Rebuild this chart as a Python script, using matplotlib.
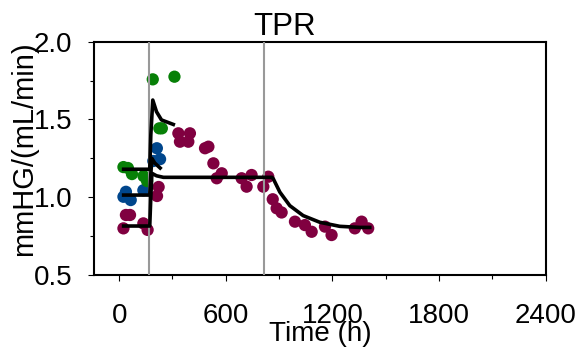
import matplotlib
matplotlib.use("Agg")
import matplotlib.pyplot as plt
from matplotlib.ticker import MultipleLocator, FormatStrFormatter

plt.rcParams['font.family'] = ['Liberation Sans', 'DejaVu Sans']

# ---- data ----
green_t = [24, 49, 72, 137, 157, 189, 226, 240, 311]
green_v = [1.194, 1.188, 1.149, 1.136, 1.104, 1.758, 1.443, 1.443, 1.775]

blue_t = [24, 38, 65, 136, 192, 212, 230]
blue_v = [1.003, 1.035, 0.982, 1.045, 1.233, 1.315, 1.245]

maroon_t = [24, 38, 61, 136, 160, 213, 222, 333, 398, 342, 389, 483, 502, 530,
            549, 577, 689, 717, 745, 811, 839, 864, 886, 914, 989, 1045, 1083,
            1158, 1195, 1326, 1364, 1401]
maroon_v = [0.800, 0.886, 0.886, 0.832, 0.790, 1.008, 1.066, 1.411, 1.411, 1.357,
            1.357, 1.315, 1.325, 1.218, 1.122, 1.154, 1.122, 1.068, 1.143, 1.068,
            1.132, 0.987, 0.929, 0.902, 0.843, 0.821, 0.778, 0.811, 0.757, 0.800,
            0.843, 0.800]

model_green_t = [15, 172, 178, 189, 210, 238, 314]
model_green_v = [1.18, 1.18, 1.40, 1.625, 1.55, 1.497, 1.464]

model_blue_t = [15, 172, 178, 184, 200, 238]
model_blue_v = [1.014, 1.014, 1.15, 1.25, 1.22, 1.18]

model_maroon_t = [15, 172, 178, 184, 210, 249, 500, 860, 867, 904, 960, 1035,
                  1129, 1241, 1354, 1420]
model_maroon_v = [0.815, 0.815, 1.0, 1.154, 1.138, 1.128, 1.128, 1.128, 1.119,
                  1.033, 0.946, 0.882, 0.839, 0.813, 0.806, 0.806]

vlines_t = [168, 816]

x_ticks = [0, 600, 1200, 1800, 2400]
y_ticks = [0.5, 1.0, 1.5, 2.0]

# ---- figure ----
fig = plt.figure(figsize=(5.81, 3.49), dpi=100)
ax = fig.add_axes([0.1623, 0.212, 0.777, 0.6685])

ms = 78
ax.scatter(maroon_t, maroon_v, s=ms, color='#800040', edgecolors='none', zorder=2)
ax.scatter(blue_t, blue_v, s=ms, color='#00468c', edgecolors='none', zorder=2)
ax.scatter(green_t, green_v, s=ms, color='#078007', edgecolors='none', zorder=2)

for t in vlines_t:
    ax.axvline(t, color='#999999', lw=1.5, zorder=3)

for tt, vv in [(model_green_t, model_green_v), (model_blue_t, model_blue_v),
               (model_maroon_t, model_maroon_v)]:
    ax.plot(tt, vv, color='black', lw=2.6, zorder=4, solid_capstyle='butt')

ax.set_xlim(-140, 2400)
ax.set_ylim(0.5, 2.0)
ax.set_xticks(x_ticks)
ax.set_yticks(y_ticks)
ax.xaxis.set_minor_locator(MultipleLocator(300))
ax.yaxis.set_minor_locator(MultipleLocator(0.25))
ax.yaxis.set_major_formatter(FormatStrFormatter('%.1f'))

for s in ax.spines.values():
    s.set_linewidth(1.5)

ax.tick_params(which='major', direction='out', length=4.5, width=0.8, labelsize=20)
ax.tick_params(axis='x', which='major', pad=16)
ax.tick_params(axis='y', which='major', pad=11.5)
ax.tick_params(which='minor', direction='out', length=2.7, width=0.8)

ax.set_title('TPR', fontsize=22.5, pad=5, x=0.4225)
ax.set_xlabel('Time (h)', fontsize=20)
ax.set_ylabel('mmHG/(mL/min)', fontsize=21)
ax.xaxis.set_label_coords(0.5, -0.195)
ax.yaxis.set_label_coords(-0.125, 0.54)

fig.savefig('out.png', dpi=100)
